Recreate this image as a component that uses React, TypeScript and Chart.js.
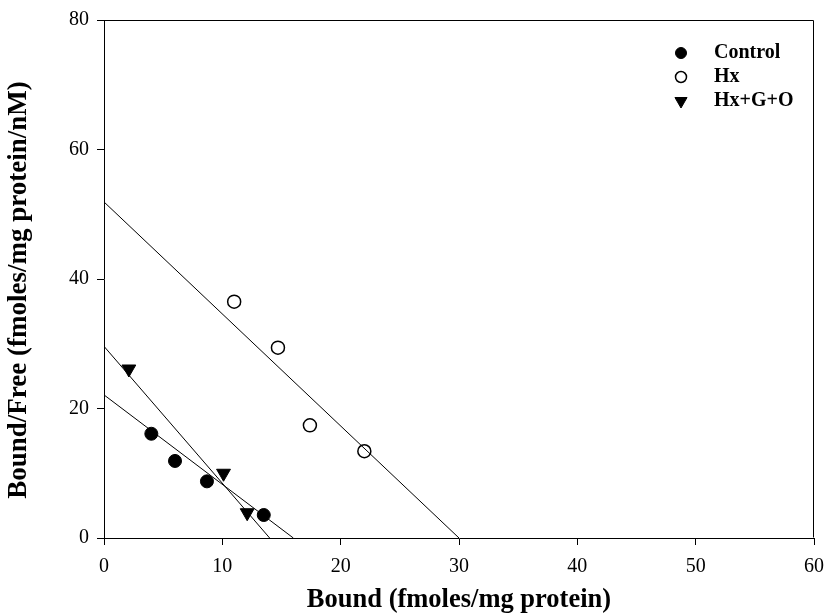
import React, { useEffect, useRef } from 'react';
import { Chart, registerables } from 'chart.js';
import { drawPoint } from 'chart.js/helpers';

Chart.register(...registerables);

// ---- data ----
const controlX = [4.0, 6.0, 8.7, 13.5];
const controlY = [16.1, 11.9, 8.75, 3.55];

const hxX = [11.0, 14.7, 17.4, 22.0];
const hxY = [36.5, 29.4, 17.4, 13.4];

const hgoX = [2.1, 10.1, 12.1];
const hgoY = [26.1, 10.0, 3.9];

// regression lines (endpoints: y-intercept and x-intercept)
const controlFitX = [0, 16.0];
const controlFitY = [22.1, 0];
const hxFitX = [0, 30.0];
const hxFitY = [51.9, 0];
const hgoFitX = [0, 14.0];
const hgoFitY = [29.6, 0];

const xTicks = [0, 10, 20, 30, 40, 50, 60];
const yTicks = [0, 20, 40, 60, 80];

const seriesLabels = ['Control', 'Hx', 'Hx+G+O'];
const xTitle = 'Bound (fmoles/mg protein)';
const yTitle = 'Bound/Free (fmoles/mg protein/nM)';

const FONT = "'Liberation Serif', 'Times New Roman', serif";

const toPts = (xs: number[], ys: number[]) => xs.map((x, i) => ({ x, y: ys[i] }));

export default function App() {
  const ref = useRef<HTMLCanvasElement | null>(null);

  useEffect(() => {
    if (!ref.current) return;

    const framePlugin = {
      id: 'frame',
      beforeDatasetsDraw(chart: any) {
        const { ctx, chartArea } = chart;
        ctx.save();
        ctx.strokeStyle = '#000';
        ctx.lineWidth = 1;
        ctx.beginPath();
        const t = Math.round(chartArea.top) + 0.5;
        const r = Math.round(chartArea.right) - 0.5;
        const l = Math.round(chartArea.left) + 0.5;
        const b = Math.round(chartArea.bottom) - 0.5;
        ctx.moveTo(l, t);
        ctx.lineTo(r, t);
        ctx.lineTo(r, b);
        ctx.stroke();
        ctx.restore();
      },
    };

    const yTitlePlugin = {
      id: 'yTitle',
      afterDraw(chart: any) {
        const { ctx, chartArea } = chart;
        ctx.save();
        ctx.translate(19, (chartArea.top + chartArea.bottom) / 2 + 11);
        ctx.rotate(-Math.PI / 2);
        ctx.fillStyle = '#000';
        ctx.font = `bold 27px ${FONT}`;
        ctx.textAlign = 'center';
        ctx.textBaseline = 'middle';
        ctx.fillText(yTitle, 0, 0);
        ctx.restore();
      },
    };

    const legendPlugin = {
      id: 'customLegend',
      afterDraw(chart: any) {
        const { ctx, chartArea } = chart;
        const markerX = chartArea.right - 133;
        const textX = chartArea.right - 100;
        const rowY = [chartArea.top + 33, chartArea.top + 57, chartArea.top + 81];
        let row = 0;
        chart.data.datasets.forEach((ds: any) => {
          if (!ds.label) return;
          const y = rowY[row++];
          ctx.save();
          ctx.fillStyle = ds.backgroundColor;
          ctx.strokeStyle = ds.borderColor;
          ctx.lineWidth = ds.borderWidth;
          drawPoint(ctx, {
            pointStyle: ds.pointStyle,
            rotation: ds.rotation || 0,
            radius: ds.legendRadius,
            borderWidth: ds.borderWidth,
          } as any, markerX, y);
          ctx.fillStyle = '#000';
          ctx.font = `bold 20px ${FONT}`;
          ctx.textBaseline = 'middle';
          ctx.textAlign = 'left';
          ctx.fillText(ds.label, textX, y);
          ctx.restore();
        });
      },
    };

    const lineDs = (xs: number[], ys: number[]) => ({
      data: toPts(xs, ys),
      showLine: true,
      borderColor: '#000',
      borderWidth: 1,
      pointRadius: 0,
      fill: false,
    });

    const chart = new Chart(ref.current, {
      type: 'scatter',
      data: {
        datasets: [
          lineDs(controlFitX, controlFitY),
          lineDs(hxFitX, hxFitY),
          lineDs(hgoFitX, hgoFitY),
          {
            label: seriesLabels[0],
            data: toPts(controlX, controlY),
            pointStyle: 'circle',
            pointRadius: 6.5,
            legendRadius: 5.5,
            backgroundColor: '#000',
            borderColor: '#000',
            borderWidth: 1,
          } as any,
          {
            label: seriesLabels[1],
            data: toPts(hxX, hxY),
            pointStyle: 'circle',
            pointRadius: 6.5,
            legendRadius: 5.5,
            backgroundColor: '#fff',
            borderColor: '#000',
            borderWidth: 1.5,
          } as any,
          {
            label: seriesLabels[2],
            data: toPts(hgoX, hgoY),
            pointStyle: 'triangle',
            rotation: 180,
            pointRotation: 180,
            pointRadius: 8,
            legendRadius: 7,
            backgroundColor: '#000',
            borderColor: '#000',
            borderWidth: 1,
          } as any,
        ],
      },
      options: {
        animation: false,
        responsive: false,
        maintainAspectRatio: false,
        layout: { padding: { top: 20, right: 12, left: 0, bottom: 0 } },
        plugins: {
          legend: { display: false },
          tooltip: { enabled: false },
        },
        scales: {
          x: {
            type: 'linear',
            min: 0,
            max: 60,
            afterFit: (s: any) => { s.height = 77; },
            afterBuildTicks: (s: any) => { s.ticks = xTicks.map((v) => ({ value: v })); },
            ticks: { color: '#000', padding: 10, font: { family: FONT, size: 20 } },
            grid: { drawOnChartArea: false, drawTicks: true, tickLength: 7, color: '#000', tickColor: '#000' },
            border: { display: true, color: '#000', width: 1 },
            title: {
              display: true,
              text: xTitle,
              color: '#000',
              font: { family: FONT, size: 26.5, weight: 'bold', lineHeight: 1.1 },
              padding: { top: 0, bottom: 0 },
            },
          },
          y: {
            type: 'linear',
            min: 0,
            max: 80,
            afterFit: (s: any) => { s.width = 104; },
            afterBuildTicks: (s: any) => { s.ticks = yTicks.map((v) => ({ value: v })); },
            ticks: { color: '#000', padding: 8, font: { family: FONT, size: 20 } },
            grid: { drawOnChartArea: false, drawTicks: true, tickLength: 7, color: '#000', tickColor: '#000' },
            border: { display: true, color: '#000', width: 1 },
            title: { display: false, text: yTitle },
          },
        },
      },
      plugins: [framePlugin, legendPlugin, yTitlePlugin],
    } as any);

    return () => chart.destroy();
  }, []);

  return (
    <div style={{ position: 'absolute', left: 0, top: 0, width: 834, height: 615 }}>
      <canvas ref={ref} width={834} height={615} style={{ width: 834, height: 615, display: 'block' }} />
    </div>
  );
}
